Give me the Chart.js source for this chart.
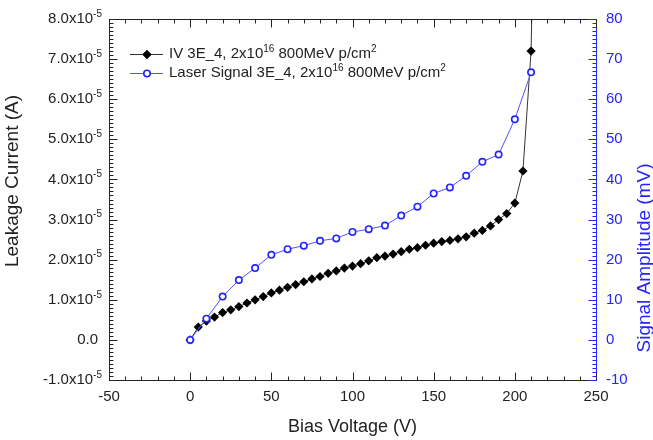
<!DOCTYPE html>
<html>
<head>
<meta charset="utf-8">
<script src="https://cdn.jsdelivr.net/npm/chart.js@4/dist/chart.umd.min.js"></script>
<style>
  html, body { margin: 0; padding: 0; background: #fff; }
  #chart { display: block; }
</style>
</head>
<body>
<canvas id="chart" width="653" height="440"></canvas>
<script>
// IV curve, every 5 V (the last point runs off the top of the plot)
const ivVoltage = [0, 5, 10, 15, 20, 25, 30, 35, 40, 45, 50, 55, 60, 65, 70, 75, 80, 85, 90, 95,
  100, 105, 110, 115, 120, 125, 130, 135, 140, 145, 150, 155, 160, 165, 170, 175, 180, 185, 190, 195,
  200, 205, 210, 215];
const ivCurrent = [0, 3.2e-6, 4.7e-6, 5.7e-6, 6.8e-6, 7.5e-6, 8.3e-6, 9.2e-6, 10.0e-6, 10.8e-6,
  11.7e-6, 12.4e-6, 13.1e-6, 13.8e-6, 14.5e-6, 15.2e-6, 15.8e-6, 16.6e-6, 17.2e-6, 17.9e-6,
  18.4e-6, 19.0e-6, 19.7e-6, 20.5e-6, 20.9e-6, 21.4e-6, 22.0e-6, 22.6e-6, 23.0e-6, 23.6e-6,
  24.1e-6, 24.5e-6, 24.8e-6, 25.2e-6, 25.7e-6, 26.6e-6, 27.3e-6, 28.4e-6, 30.0e-6, 31.5e-6,
  34.1e-6, 42.1e-6, 72.0e-6, 170e-6];

// laser signal, every 10 V
const laserVoltage = [0, 10, 20, 30, 40, 50, 60, 70, 80, 90, 100, 110, 120, 130, 140, 150, 160, 170,
  180, 190, 200, 210];
const laserSignal = [0, 5.3, 10.8, 14.9, 17.9, 21.2, 22.6, 23.5, 24.7, 25.3, 26.9, 27.6, 28.5, 31.0,
  33.2, 36.5, 38.0, 40.9, 44.4, 46.2, 55.0, 66.7];

// text pieces, sup marks a superscript
const ivLegend = [{ t: "IV 3E_4, 2x10" }, { t: "16", sup: true }, { t: " 800MeV p/cm" }, { t: "2", sup: true }];
const laserLegend = [{ t: "Laser Signal 3E_4, 2x10" }, { t: "16", sup: true }, { t: " 800MeV p/cm" }, { t: "2", sup: true }];
const currentExponent = "-5";

const FONT = '"Liberation Sans", Arial, Helvetica, sans-serif';
const INK = "#222222";
const BLUE = "#2424ff";

Chart.defaults.font.family = FONT;

function richWidth(ctx, parts, size) {
  let w = 0;
  parts.forEach((p) => {
    ctx.font = (p.sup ? Math.round(size * 0.66) : size) + "px " + FONT;
    w += ctx.measureText(p.t).width;
  });
  return w;
}

// draws text with superscripts, left edge at x, vertical middle at y
function drawRich(ctx, parts, x, y, size, color) {
  ctx.fillStyle = color;
  ctx.textAlign = "left";
  ctx.textBaseline = "middle";
  parts.forEach((p) => {
    const s = p.sup ? Math.round(size * 0.66) : size;
    ctx.font = s + "px " + FONT;
    ctx.fillText(p.t, x, p.sup ? y - size * 0.33 : y);
    x += ctx.measureText(p.t).width;
  });
}

function tickLine(ctx, x1, y1, x2, y2) {
  ctx.moveTo(x1, y1);
  ctx.lineTo(x2, y2);
}

const framePlugin = {
  id: "frame",
  afterDraw(chart) {
    const { ctx, chartArea: a, scales } = chart;
    const sx = scales.x;
    const yc = scales.yCurrent;
    const ys = scales.ySignal;
    const top = Math.round(a.top) + 0.5;
    const bottom = Math.round(a.bottom) + 0.5;
    const left = Math.round(a.left) + 0.5;
    const right = Math.round(a.right) + 0.5;

    ctx.save();
    ctx.lineWidth = 1;

    // top frame line and inward voltage ticks on top and bottom
    ctx.strokeStyle = INK;
    ctx.beginPath();
    tickLine(ctx, left, top, right, top);
    for (let v = sx.min; v <= sx.max; v += 10) {
      const px = Math.round(sx.getPixelForValue(v)) + 0.5;
      const len = v % 50 === 0 ? 8 : 4;
      tickLine(ctx, px, bottom, px, bottom - len);
      tickLine(ctx, px, top, px, top + len);
    }
    // current ticks, minor every 1e-6
    for (let i = -10; i <= 80; i++) {
      const py = Math.round(yc.getPixelForValue(i * 1e-6)) + 0.5;
      tickLine(ctx, left, py, left + (i % 10 === 0 ? 8 : 4), py);
    }
    ctx.stroke();

    // signal ticks, minor every 1 mV
    ctx.strokeStyle = BLUE;
    ctx.beginPath();
    for (let v = ys.min; v <= ys.max; v++) {
      const py = Math.round(ys.getPixelForValue(v)) + 0.5;
      tickLine(ctx, right, py, right - (v % 10 === 0 ? 8 : 4), py);
    }
    ctx.stroke();

    // current tick labels with the x10^-5 exponent
    yc.ticks.forEach((t) => {
      const py = yc.getPixelForValue(t.value);
      const parts = Math.abs(t.value) < 1e-12
        ? [{ t: "0.0" }]
        : [{ t: (t.value / 1e-5).toFixed(1) + "x10" }, { t: currentExponent, sup: true }];
      const w = richWidth(ctx, parts, 15);
      drawRich(ctx, parts, (parts.length === 1 ? 98 : 102) - w, py, 15, INK);
    });

    // axis titles
    ctx.textAlign = "center";
    ctx.textBaseline = "middle";
    ctx.font = "18px " + FONT;
    ctx.fillStyle = INK;
    ctx.fillText("Bias Voltage (V)", (a.left + a.right) / 2, 427);

    ctx.save();
    ctx.translate(13, 181);
    ctx.rotate(-Math.PI / 2);
    ctx.font = "19px " + FONT;
    ctx.fillText("Leakage Current (A)", 0, 0);
    ctx.restore();

    ctx.save();
    ctx.translate(645, 258);
    ctx.rotate(-Math.PI / 2);
    ctx.font = "19px " + FONT;
    ctx.fillStyle = BLUE;
    ctx.fillText("Signal Amplitude (mV)", 0, 0);
    ctx.restore();

    // legend inside the plot
    const rows = [
      { parts: ivLegend, y: 54, ds: chart.data.datasets[1] },
      { parts: laserLegend, y: 73, ds: chart.data.datasets[0] },
    ];
    rows.forEach((r) => {
      ctx.strokeStyle = r.ds.borderColor;
      ctx.lineWidth = 1;
      ctx.beginPath();
      ctx.moveTo(130, r.y + 0.5);
      ctx.lineTo(163, r.y + 0.5);
      ctx.stroke();
      Chart.helpers.drawPoint(ctx, {
        pointStyle: r.ds.pointStyle,
        radius: r.ds.pointRadius,
        borderWidth: r.ds.pointBorderWidth,
        rotation: 0,
      }, 147, r.y + 0.5);
      ctx.fillStyle = r.ds.pointBackgroundColor;
      ctx.strokeStyle = r.ds.pointBorderColor;
      ctx.lineWidth = r.ds.pointBorderWidth;
      ctx.fill();
      if (r.ds.pointBorderWidth) ctx.stroke();
      drawRich(ctx, r.parts, 169, r.y, 15, INK);
    });

    ctx.restore();
  },
};

const laserPoints = laserVoltage.map((v, i) => ({ x: v, y: laserSignal[i] }));
const ivPoints = ivVoltage.map((v, i) => ({ x: v, y: ivCurrent[i] }));

new Chart(document.getElementById("chart"), {
  type: "line",
  data: {
    datasets: [
      {
        label: "Laser Signal 3E_4",
        data: laserPoints,
        yAxisID: "ySignal",
        order: 0,
        borderColor: "#5252ff",
        borderWidth: 1,
        pointStyle: "circle",
        pointRadius: 3.2,
        pointBorderWidth: 1.6,
        pointBorderColor: BLUE,
        pointBackgroundColor: "#ffffff",
      },
      {
        label: "IV 3E_4",
        data: ivPoints,
        yAxisID: "yCurrent",
        order: 1,
        borderColor: "#333333",
        borderWidth: 1,
        pointStyle: "rectRot",
        pointRadius: 4.6,
        pointBorderWidth: 0,
        pointBorderColor: "#000000",
        pointBackgroundColor: "#000000",
      },
    ],
  },
  options: {
    responsive: false,
    animation: false,
    devicePixelRatio: 1,
    layout: { padding: { top: 16, right: 0, bottom: 0, left: 0 } },
    plugins: { legend: { display: false }, tooltip: { enabled: false } },
    scales: {
      x: {
        type: "linear",
        position: "bottom",
        min: -50,
        max: 250,
        ticks: { stepSize: 50, padding: 8, color: INK, font: { size: 15 } },
        grid: { display: false, drawTicks: false },
        border: { color: INK, width: 1 },
        afterFit: (s) => { s.height = 60; },
      },
      yCurrent: {
        type: "linear",
        position: "left",
        min: -1e-5,
        max: 8e-5,
        ticks: { stepSize: 1e-5, display: false },
        grid: { display: false, drawTicks: false },
        border: { color: INK, width: 1 },
        afterFit: (s) => { s.width = 109; },
      },
      ySignal: {
        type: "linear",
        position: "right",
        min: -10,
        max: 80,
        ticks: { stepSize: 10, padding: 10, color: BLUE, font: { size: 15 } },
        grid: { display: false, drawTicks: false },
        border: { color: BLUE, width: 1 },
        afterFit: (s) => { s.width = 57; },
      },
    },
  },
  plugins: [framePlugin],
});
</script>
</body>
</html>
